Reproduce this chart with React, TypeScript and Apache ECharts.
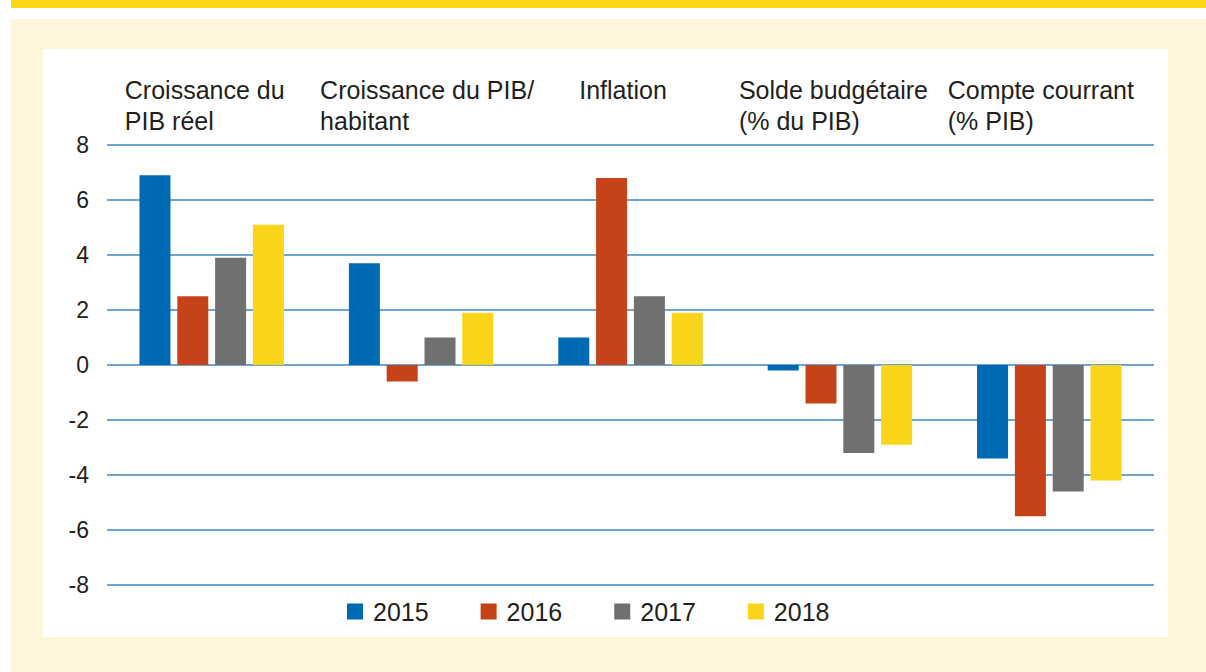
import React, { useEffect, useRef } from 'react';
import * as echarts from 'echarts';

const categories = [
  'Croissance du\nPIB réel',
  'Croissance du PIB/\nhabitant',
  'Inflation\n ',
  'Solde budgétaire\n(% du PIB)',
  'Compte courrant\n(% PIB)',
];
const years = ['2015', '2016', '2017', '2018'];
const v2015 = [6.9, 3.7, 1.0, -0.2, -3.4];
const v2016 = [2.5, -0.6, 6.8, -1.4, -5.5];
const v2017 = [3.9, 1.0, 2.5, -3.2, -4.6];
const v2018 = [5.1, 1.9, 1.9, -2.9, -4.2];
const seriesValues = [v2015, v2016, v2017, v2018];
const colors = ['#0069B4', '#C64218', '#707070', '#FAD418'];
const yMin = -8;
const yMax = 8;
const yStep = 2;

const FONT = '"Liberation Sans", Arial, Helvetica, sans-serif';
const TEXT = '#231F20';

// per-label horizontal nudges (padding [top, right, bottom, left])
const labelPads = [
  [0, 14, 0, 0],
  [0, 0, 0, 12],
  [0, 15, 0, 0],
  [0, 13, 0, 0],
  [0, 17, 0, 0],
];

export default function App() {
  const ref = useRef<HTMLDivElement>(null);
  useEffect(() => {
    if (!ref.current) return;
    const chart = echarts.init(ref.current, undefined, { renderer: 'svg' });
    const rich: Record<string, any> = {};
    labelPads.forEach((p, i) => {
      rich['l' + i] = {
        align: 'left',
        fontSize: 25,
        lineHeight: 31,
        color: TEXT,
        fontFamily: FONT,
        padding: p,
      };
    });
    chart.setOption({
      animation: false,
      backgroundColor: '#FEF6DB',
      graphic: [
        { type: 'rect', z: -100, silent: true, shape: { x: 0, y: 0, width: 11, height: 672 }, style: { fill: '#FFFFFF' } },
        { type: 'rect', z: -100, silent: true, shape: { x: 11, y: 0, width: 1195, height: 8 }, style: { fill: '#FCD617' } },
        { type: 'rect', z: -100, silent: true, shape: { x: 11, y: 8, width: 1195, height: 11 }, style: { fill: '#FFFFFF' } },
        { type: 'rect', z: -100, silent: true, shape: { x: 43, y: 49, width: 1125, height: 588 }, style: { fill: '#FFFFFF' } },
      ],
      grid: { left: 107, right: 52, top: 145, bottom: 87, containLabel: false },
      legend: {
        data: years,
        left: 342,
        top: 594,
        icon: 'rect',
        itemWidth: 16,
        itemHeight: 16,
        itemGap: 52,
        textStyle: { fontSize: 25, color: TEXT, fontFamily: FONT, padding: [0, 0, 0, 5] },
      },
      xAxis: {
        type: 'category',
        position: 'top',
        data: categories,
        axisLine: { show: false },
        axisTick: { show: false },
        axisLabel: {
          interval: 0,
          align: 'center',
          margin: 9,
          formatter: (val: string, idx: number) =>
            val
              .split('\n')
              .map((l) => `{l${idx}|${l}}`)
              .join('\n'),
          rich,
        },
      },
      yAxis: {
        type: 'value',
        min: yMin,
        max: yMax,
        interval: yStep,
        axisLine: { show: false },
        axisTick: { show: false },
        axisLabel: { fontSize: 23, color: TEXT, fontFamily: FONT, margin: 18 },
        splitLine: { lineStyle: { color: '#6FA3D0', width: 2 } },
      },
      series: years.map((y, i) => ({
        name: y,
        type: 'bar',
        data: seriesValues[i],
        barWidth: 31,
        barGap: '22%',
        itemStyle: { color: colors[i] },
      })),
    });
    return () => chart.dispose();
  }, []);
  return (
    <div
      ref={ref}
      style={{ position: 'fixed', left: 0, top: 0, width: 1206, height: 672 }}
    />
  );
}
